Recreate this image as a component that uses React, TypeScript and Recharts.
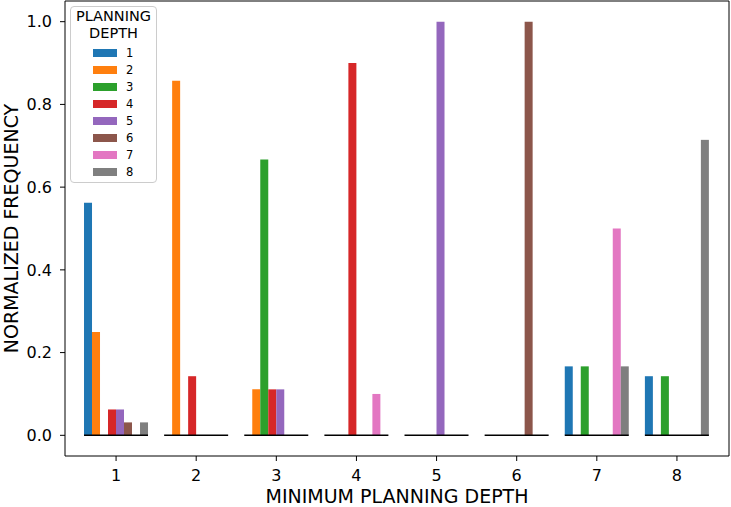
import { BarChart, Bar, XAxis, YAxis, Legend } from "recharts";

const categories = ["1", "2", "3", "4", "5", "6", "7", "8"];

const depth1 = [0.5625, 0, 0, 0, 0, 0, 0.1667, 0.1429];
const depth2 = [0.25, 0.8571, 0.1111, 0, 0, 0, 0, 0];
const depth3 = [0, 0, 0.6667, 0, 0, 0, 0.1667, 0.1429];
const depth4 = [0.0625, 0.1429, 0.1111, 0.9, 0, 0, 0, 0];
const depth5 = [0.0625, 0, 0.1111, 0, 1.0, 0, 0, 0];
const depth6 = [0.03125, 0, 0, 0, 0, 1.0, 0, 0];
const depth7 = [0, 0, 0, 0.1, 0, 0, 0.5, 0];
const depth8 = [0.03125, 0, 0, 0, 0, 0, 0.1667, 0.7143];

const seriesNames = ["1", "2", "3", "4", "5", "6", "7", "8"];
const seriesValues = [depth1, depth2, depth3, depth4, depth5, depth6, depth7, depth8];
const colors = [
  "#1f77b4",
  "#ff7f0e",
  "#2ca02c",
  "#d62728",
  "#9467bd",
  "#8c564b",
  "#e377c2",
  "#7f7f7f",
];

const yTicks = [0, 0.2, 0.4, 0.6, 0.8, 1.0];

const data = categories.map((c, i) => {
  const row: Record<string, string | number> = { depth: c };
  seriesNames.forEach((s, j) => {
    row["d" + s] = seriesValues[j][i];
  });
  return row;
});

const FONT = "DejaVu Sans, sans-serif";

// last bar of each group also draws the black zero line under the whole group
const LastBar = (props: any) => {
  const { x, y, width, height, fill } = props;
  const base = y + height;
  return (
    <g>
      {height > 0 && <rect x={x} y={y} width={width} height={height} fill={fill} />}
      <line x1={x - 7 * width} x2={x + width} y1={base} y2={base} stroke="#000" strokeWidth={1.5} />
    </g>
  );
};

const LegendBox = (props: any) => {
  const payload = props.payload || [];
  return (
    <div
      style={{
        boxSizing: "border-box",
        width: 87,
        height: 177,
        border: "1px solid #cccccc",
        borderRadius: 4,
        background: "rgba(255,255,255,0.8)",
        fontFamily: FONT,
        paddingTop: 1,
      }}
    >
      <div style={{ textAlign: "center", fontSize: 14.5, lineHeight: "17px", color: "#000" }}>
        PLANNING
        <br />
        DEPTH
      </div>
      <div style={{ marginTop: 2 }}>
        {payload.map((p: any) => (
          <div key={p.value} style={{ height: 17.07, display: "flex", alignItems: "center" }}>
            <span
              style={{
                display: "inline-block",
                width: 24,
                height: 8,
                marginLeft: 22,
                background: p.color,
              }}
            />
            <span style={{ marginLeft: 9, fontSize: 11.5, color: "#000" }}>{p.value}</span>
          </div>
        ))}
      </div>
    </div>
  );
};

const YTitle = (props: any) => {
  const vb = props.viewBox || {};
  const cx = vb.x + 11;
  const cy = vb.y + vb.height / 2;
  return (
    <text
      x={cx}
      y={cy}
      transform={`rotate(-90, ${cx}, ${cy})`}
      textAnchor="middle"
      dominantBaseline="central"
      fontFamily={FONT}
      fontSize={19}
      fill="#000"
    >
      NORMALIZED FREQUENCY
    </text>
  );
};

const XTitle = (props: any) => {
  const vb = props.viewBox || {};
  return (
    <text
      x={vb.x + vb.width / 2}
      y={vb.y + 40}
      textAnchor="middle"
      dominantBaseline="central"
      fontFamily={FONT}
      fontSize={19}
      fill="#000"
    >
      MINIMUM PLANNING DEPTH
    </text>
  );
};

export default function App() {
  return (
    <div style={{ position: "absolute", left: 0, top: 0, width: 731, height: 507, background: "#fff" }}>
      <BarChart
        width={731}
        height={507}
        data={data}
        margin={{ top: 0, right: 0, bottom: 0, left: 0 }}
        barCategoryGap="10%"
        barGap={0}
      >
        <XAxis
          dataKey="depth"
          height={51}
          padding={{ left: 11, right: 12 }}
          stroke="#000"
          tickSize={5}
          tickMargin={9}
          tick={{ fill: "#000", fontSize: 16, fontFamily: FONT }}
          label={<XTitle />}
        />
        <XAxis
          xAxisId="top"
          dataKey="depth"
          orientation="top"
          height={1}
          stroke="#000"
          tick={false}
          tickLine={false}
          padding={{ left: 11, right: 12 }}
        />
        <YAxis
          width={65}
          domain={[-0.05, 1.05]}
          ticks={yTicks}
          allowDataOverflow
          stroke="#000"
          tickSize={5}
          tickMargin={8}
          tickFormatter={(v: number) => v.toFixed(1)}
          tick={{ fill: "#000", fontSize: 16, fontFamily: FONT }}
          label={<YTitle />}
        />
        <YAxis
          yAxisId="right"
          orientation="right"
          width={2}
          stroke="#000"
          tick={false}
          tickLine={false}
        />
        <Legend
          layout="vertical"
          align="center"
          verticalAlign="middle"
          wrapperStyle={{ left: 70, top: 6, width: 87, height: 177 }}
          content={<LegendBox />}
        />
        {seriesNames.map((s, j) => (
          <Bar
            key={s}
            dataKey={"d" + s}
            name={s}
            fill={colors[j]}
            isAnimationActive={false}
            shape={j === seriesNames.length - 1 ? <LastBar /> : undefined}
          />
        ))}
      </BarChart>
    </div>
  );
}
